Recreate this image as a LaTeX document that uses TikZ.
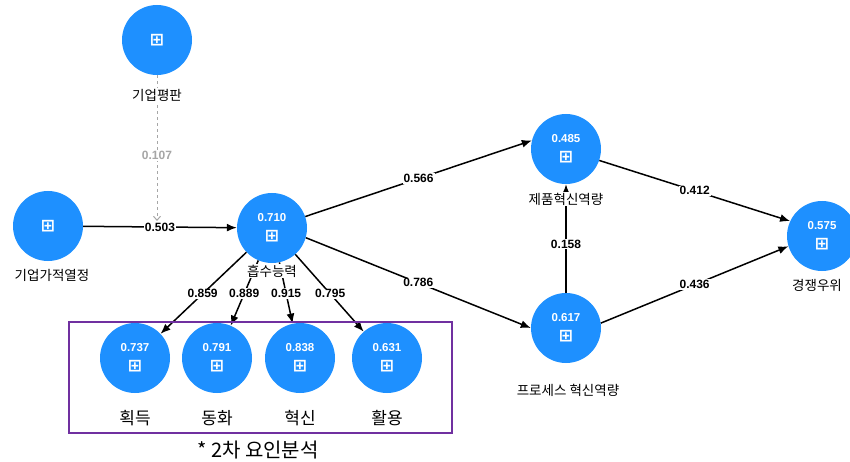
\documentclass[tikz,border=0pt]{standalone}
\usepackage{fontspec}
\setmainfont{Liberation Sans}
\newfontfamily\krfont{Noto Sans CJK KR}
\newfontfamily\symfont{DejaVu Sans}
\usepackage{tikz}
\usetikzlibrary{arrows.meta}
\tikzset{>={Latex[length=10pt,width=8pt]}}
\usepackage{xcolor}
\definecolor{plsblue}{RGB}{30,144,255}
\definecolor{boxpurple}{RGB}{112,48,160}
\tikzstyle{lv}=[circle,fill=plsblue,minimum size=70,inner sep=0,align=center,text=white,font=\fontsize{11.5}{20}\selectfont\bfseries]
\tikzstyle{lvname}=[font=\krfont\fontsize{13.5}{15}\selectfont,fill=white,inner sep=1pt]
\tikzstyle{subname}=[font=\krfont\fontsize{17}{19}\selectfont,inner sep=1pt]
\tikzstyle{coef}=[font=\fontsize{12}{14}\selectfont\bfseries,fill=white,inner sep=1pt]
\tikzstyle{relpath}=[->,line width=1.5pt]
\newcommand{\boxplus}{{\symfont\fontsize{17}{17}\selectfont ⊞}}

\begin{document}
\begin{tikzpicture}[x=1pt,y=-1pt]
 \useasboundingbox (0,0) rectangle (850,462);
 % latent variables
 \node[lv] (rep) at (157,40) {\boxplus};
 \node[lv] (ent) at (48,226) {\boxplus};
 \node[lv] (abs) at (272,228) {0.710\\\boxplus};
 \node[lv] (prod) at (566,149) {0.485\\\boxplus};
 \node[lv] (proc) at (566,328) {0.617\\\boxplus};
 \node[lv] (comp) at (822,236) {0.575\\\boxplus};
 \foreach \X/\V/\N/\L in {135/0.737/acq/획득,217/0.791/asm/동화,300/0.838/inn/혁신,387/0.631/uti/활용}
 {
 \node[lv] (\N) at (\X,358) {\V\\\boxplus};
 \node[subname] (\N lbl) at (\X,418) {\L};
 \draw[relpath] (abs) -- (\N);
 }
 %
 \draw[relpath] (ent) -- node[coef] (c503) {0.503} (abs);
 \draw[dashed,gray!70,line width=1pt,-{Straight Barb[length=4pt,width=7pt]}] (rep) -- (rep |- c503.north)
  node[coef,text=gray!70,pos=0.55] (c107) {0.107};
 \draw[relpath] (abs.19) -- node[coef] (c566) {0.566} (prod.166);
 \draw[relpath] (abs.-16) -- node[coef] (c786) {0.786} (proc.180);
 \draw[relpath] (proc) -- node[coef,pos=0.45] (c158) {0.158} (prod);
 \draw[relpath] (prod.-19) -- node[coef] (c412) {0.412} (comp.155);
 \draw[relpath] (proc.8) -- node[coef] (c436) {0.436} (comp.197);
 % loadings
 \path (abs) -- node[coef,pos=0.51] (l1) {0.859} (acq);
 \path (abs) -- node[coef,pos=0.51] (l2) {0.889} (asm);
 \path (abs) -- node[coef,pos=0.51] (l3) {0.915} (inn);
 \path (abs) -- node[coef,pos=0.51] (l4) {0.795} (uti);
 % names
 \node[lvname] (replbl) at (157,95) {기업평판};
 \node[lvname] (entlbl) at (52,275) {기업가적열정};
 \node[lvname] (abslbl) at (272,271) {흡수능력};
 \node[lvname] (prodlbl) at (566,199) {제품혁신역량};
 \node[lvname] (proclbl) at (568,390) {프로세스 혁신역량};
 \node[lvname] (complbl) at (817,285) {경쟁우위};
 %
 \draw[boxpurple,line width=2.5pt] (69,322) rectangle (452,433);
 \node[font=\krfont\fontsize{20}{22}\selectfont,inner sep=1pt] (note) at (258,450) {* 2차 요인분석};
\end{tikzpicture}
\end{document}
